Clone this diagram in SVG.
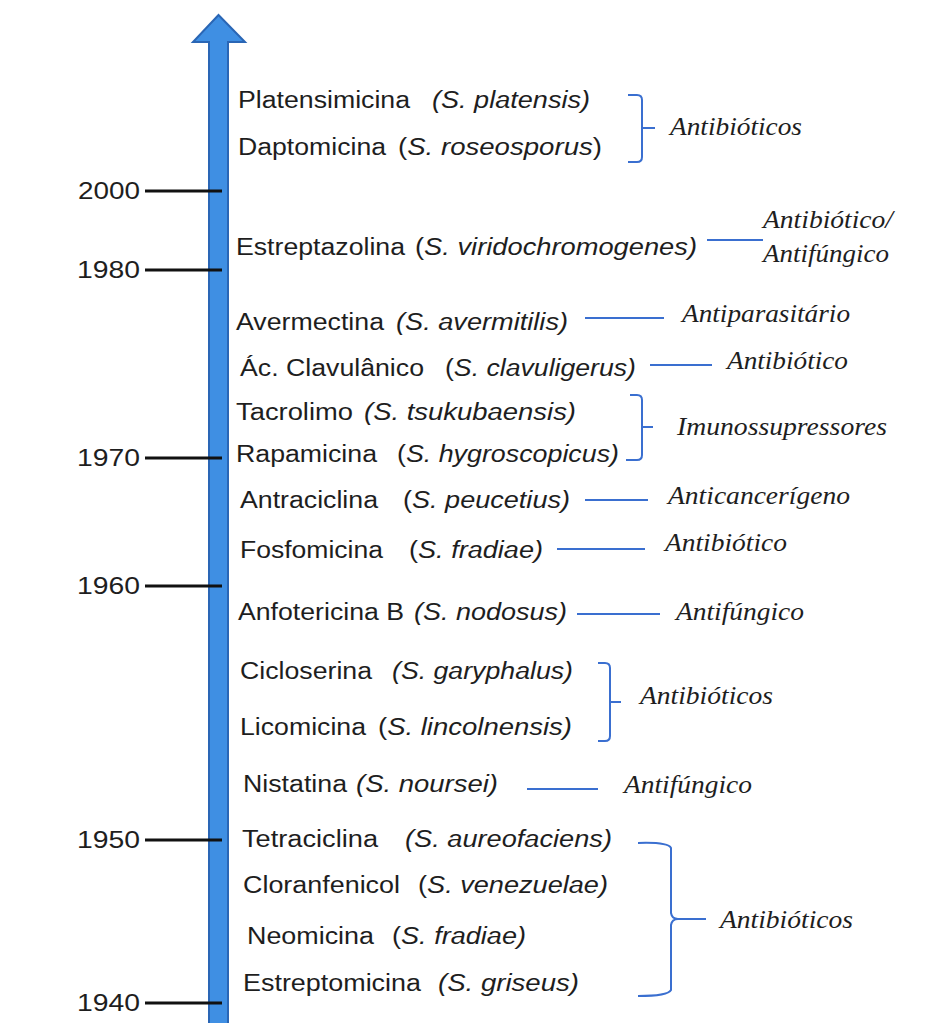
<svg xmlns="http://www.w3.org/2000/svg" width="929" height="1023" viewBox="0 0 929 1023">
<style>
.n{font-family:"Liberation Sans",Arial,sans-serif;font-size:23px;fill:#1e1e1e}
.s{font-family:"Liberation Sans",Arial,sans-serif;font-size:23px;fill:#1e1e1e;font-style:italic}
.y{font-family:"Liberation Sans",Arial,sans-serif;font-size:24px;fill:#1e1e1e}
.l{font-family:"Liberation Serif","Times New Roman",serif;font-size:25px;font-style:italic;fill:#1e1e1e}
.c{fill:none;stroke:#3a6fd0;stroke-width:2}
.t{stroke:#111;stroke-width:3}
</style>
<rect width="929" height="1023" fill="#fff"/>
<g id="timeline">
<path d="M209,1023 V42 H193 L218.5,15 L245,42 H228 V1023" fill="#3f8fe3" stroke="#2a66b5" stroke-width="2"/>
<line class="t" x1="145" y1="191" x2="222" y2="191"/>
<line class="t" x1="145" y1="270" x2="222" y2="270"/>
<line class="t" x1="145" y1="458" x2="222" y2="458"/>
<line class="t" x1="145" y1="586" x2="222" y2="586"/>
<line class="t" x1="145" y1="840" x2="222" y2="840"/>
<line class="t" x1="145" y1="1003" x2="222" y2="1003"/>
<text class="y" x="78" y="199" textLength="62" lengthAdjust="spacingAndGlyphs">2000</text>
<text class="y" x="77" y="278" textLength="63" lengthAdjust="spacingAndGlyphs">1980</text>
<text class="y" x="77" y="466" textLength="63" lengthAdjust="spacingAndGlyphs">1970</text>
<text class="y" x="77" y="594" textLength="63" lengthAdjust="spacingAndGlyphs">1960</text>
<text class="y" x="77" y="848" textLength="63" lengthAdjust="spacingAndGlyphs">1950</text>
<text class="y" x="77" y="1011" textLength="63" lengthAdjust="spacingAndGlyphs">1940</text>
</g>
<g id="connectors">
<path class="c" d="M628,95 H637 Q642,95 642,100 V157 Q642,162 637,162 H628 M642,128 H655"/>
<path class="c" d="M707,240 H763"/>
<path class="c" d="M585,318 H664"/>
<path class="c" d="M650,365 H712"/>
<path class="c" d="M630,395 H637 Q642,395 642,400 V455 Q642,460 637,460 H626 M642,427 H653"/>
<path class="c" d="M585,500 H648"/>
<path class="c" d="M557,549 H645"/>
<path class="c" d="M577,614 H660"/>
<path class="c" d="M598,663 H605 Q610,663 610,668 V736 Q610,741 605,741 H598 M610,702 H621"/>
<path class="c" d="M527,789 H598"/>
<path class="c" d="M638,843 Q668,842 671,848 V913 Q672,919 678,919 H706 M678,919 Q672,919 671,925 V990 Q668,996 638,996"/>
</g>
<g id="platensimicina"><text class="n" x="238" y="108" textLength="172" lengthAdjust="spacingAndGlyphs">Platensimicina</text><text class="s" x="432" y="108" textLength="158" lengthAdjust="spacingAndGlyphs">(S. platensis)</text></g>
<g id="daptomicina"><text class="n" x="238" y="155" textLength="148" lengthAdjust="spacingAndGlyphs">Daptomicina</text><text class="n" x="398" y="155" textLength="204" lengthAdjust="spacingAndGlyphs">(<tspan font-style="italic">S. roseosporus</tspan>)</text></g>
<g id="estreptazolina"><text class="n" x="236" y="255" textLength="169" lengthAdjust="spacingAndGlyphs">Estreptazolina</text><text class="n" x="415" y="255" textLength="282" lengthAdjust="spacingAndGlyphs">(<tspan font-style="italic">S. viridochromogenes)</tspan></text></g>
<g id="avermectina"><text class="n" x="236" y="330" textLength="148" lengthAdjust="spacingAndGlyphs">Avermectina</text><text class="s" x="396" y="330" textLength="172" lengthAdjust="spacingAndGlyphs">(S. avermitilis)</text></g>
<g id="clavulanico"><text class="n" x="240" y="376" textLength="184" lengthAdjust="spacingAndGlyphs">Ác. Clavulânico</text><text class="n" x="445" y="376" textLength="191" lengthAdjust="spacingAndGlyphs">(<tspan font-style="italic">S. clavuligerus)</tspan></text></g>
<g id="tacrolimo"><text class="n" x="236" y="420" textLength="117" lengthAdjust="spacingAndGlyphs">Tacrolimo</text><text class="s" x="364" y="420" textLength="212" lengthAdjust="spacingAndGlyphs">(S. tsukubaensis)</text></g>
<g id="rapamicina"><text class="n" x="236" y="462" textLength="141" lengthAdjust="spacingAndGlyphs">Rapamicina</text><text class="n" x="397" y="462" textLength="222" lengthAdjust="spacingAndGlyphs">(<tspan font-style="italic">S. hygroscopicus)</tspan></text></g>
<g id="antraciclina"><text class="n" x="240" y="508" textLength="138" lengthAdjust="spacingAndGlyphs">Antraciclina</text><text class="n" x="403" y="508" textLength="167" lengthAdjust="spacingAndGlyphs">(<tspan font-style="italic">S. peucetius)</tspan></text></g>
<g id="fosfomicina"><text class="n" x="240" y="558" textLength="143" lengthAdjust="spacingAndGlyphs">Fosfomicina</text><text class="n" x="409" y="558" textLength="134" lengthAdjust="spacingAndGlyphs">(<tspan font-style="italic">S. fradiae)</tspan></text></g>
<g id="anfotericina"><text class="n" x="238" y="620" textLength="166" lengthAdjust="spacingAndGlyphs">Anfotericina B</text><text class="s" x="414" y="620" textLength="153" lengthAdjust="spacingAndGlyphs">(S. nodosus)</text></g>
<g id="cicloserina"><text class="n" x="240" y="679" textLength="132" lengthAdjust="spacingAndGlyphs">Cicloserina</text><text class="s" x="392" y="679" textLength="181" lengthAdjust="spacingAndGlyphs">(S. garyphalus)</text></g>
<g id="licomicina"><text class="n" x="240" y="735" textLength="126" lengthAdjust="spacingAndGlyphs">Licomicina</text><text class="n" x="378" y="735" textLength="194" lengthAdjust="spacingAndGlyphs">(<tspan font-style="italic">S. lincolnensis)</tspan></text></g>
<g id="nistatina"><text class="n" x="243" y="792" textLength="104" lengthAdjust="spacingAndGlyphs">Nistatina</text><text class="s" x="356" y="792" textLength="142" lengthAdjust="spacingAndGlyphs">(S. noursei)</text></g>
<g id="tetraciclina"><text class="n" x="242" y="847" textLength="136" lengthAdjust="spacingAndGlyphs">Tetraciclina</text><text class="s" x="405" y="847" textLength="207" lengthAdjust="spacingAndGlyphs">(S. aureofaciens)</text></g>
<g id="cloranfenicol"><text class="n" x="243" y="893" textLength="157" lengthAdjust="spacingAndGlyphs">Cloranfenicol</text><text class="n" x="418" y="893" textLength="190" lengthAdjust="spacingAndGlyphs">(<tspan font-style="italic">S. venezuelae)</tspan></text></g>
<g id="neomicina"><text class="n" x="247" y="944" textLength="127" lengthAdjust="spacingAndGlyphs">Neomicina</text><text class="n" x="392" y="944" textLength="134" lengthAdjust="spacingAndGlyphs">(<tspan font-style="italic">S. fradiae)</tspan></text></g>
<g id="estreptomicina"><text class="n" x="243" y="991" textLength="178" lengthAdjust="spacingAndGlyphs">Estreptomicina</text><text class="s" x="438" y="991" textLength="141" lengthAdjust="spacingAndGlyphs">(S. griseus)</text></g>
<g id="label-antibioticos-1"><text class="l" x="670" y="135" textLength="132" lengthAdjust="spacingAndGlyphs">Antibióticos</text></g>
<g id="label-antibiotico-antifungico"><text class="l" x="763" y="228" textLength="130" lengthAdjust="spacingAndGlyphs">Antibiótico/</text><text class="l" x="763" y="262" textLength="126" lengthAdjust="spacingAndGlyphs">Antifúngico</text></g>
<g id="label-antiparasitario"><text class="l" x="682" y="322" textLength="168" lengthAdjust="spacingAndGlyphs">Antiparasitário</text></g>
<g id="label-antibiotico-1"><text class="l" x="727" y="369" textLength="121" lengthAdjust="spacingAndGlyphs">Antibiótico</text></g>
<g id="label-imunossupressores"><text class="l" x="677" y="435" textLength="210" lengthAdjust="spacingAndGlyphs">Imunossupressores</text></g>
<g id="label-anticancerigeno"><text class="l" x="668" y="504" textLength="182" lengthAdjust="spacingAndGlyphs">Anticancerígeno</text></g>
<g id="label-antibiotico-2"><text class="l" x="665" y="551" textLength="122" lengthAdjust="spacingAndGlyphs">Antibiótico</text></g>
<g id="label-antifungico-1"><text class="l" x="676" y="620" textLength="128" lengthAdjust="spacingAndGlyphs">Antifúngico</text></g>
<g id="label-antibioticos-2"><text class="l" x="640" y="704" textLength="133" lengthAdjust="spacingAndGlyphs">Antibióticos</text></g>
<g id="label-antifungico-2"><text class="l" x="624" y="793" textLength="128" lengthAdjust="spacingAndGlyphs">Antifúngico</text></g>
<g id="label-antibioticos-3"><text class="l" x="720" y="928" textLength="133" lengthAdjust="spacingAndGlyphs">Antibióticos</text></g>
</svg>
